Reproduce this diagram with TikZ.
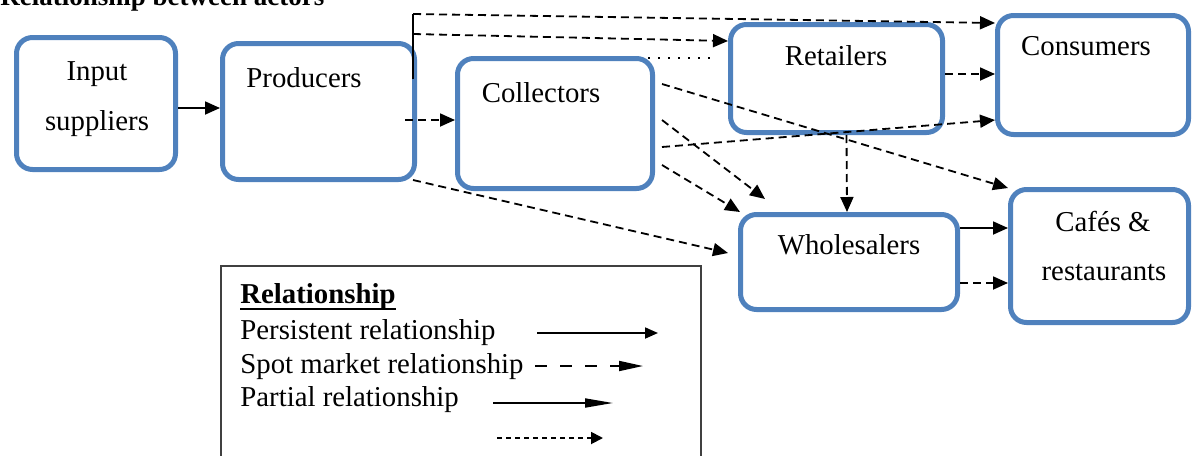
\documentclass[tikz,border=0pt]{standalone}
\usepackage{fontspec}
\setmainfont{Liberation Serif}
\usetikzlibrary{arrows.meta}
\definecolor{actorblue}{RGB}{79,129,189}
\definecolor{framegray}{RGB}{64,64,64}

\begin{document}
\begin{tikzpicture}[x=0.5pt, y=-0.5pt,
    actor/.style={draw=actorblue, line width=2.5pt, rounded corners=8pt, inner sep=0pt},
    lbl/.style={font=\fontsize{14.4}{17}\selectfont, inner sep=0pt, anchor=base},
    conn/.style={line width=0.9pt, -{Triangle[length=7.5pt,width=6.5pt]}},
    spot/.style={conn, dash pattern=on 4pt off 2.5pt}]
  \useasboundingbox (0,0) rectangle (1192,455);

  % Title
  \node[lbl, anchor=base west, font=\fontsize{13.5}{16}\selectfont\bfseries] (title) at (0,5) {Relationship between actors};

  % Define nodes
  \node[actor, minimum width=79.5pt, minimum height=66pt] (inp) at (96,103.5) {};
  \node[actor, minimum width=96pt, minimum height=68pt] (prod) at (318.5,111.5) {};
  \node[actor, minimum width=97.5pt, minimum height=65pt] (coll) at (555,123.5) {};
  \node[actor, minimum width=106pt, minimum height=54pt] (ret) at (836.5,78.5) {};
  \node[actor, minimum width=95.5pt, minimum height=59.5pt] (cons) at (1093,75) {};
  \node[actor, minimum width=108.5pt, minimum height=47.5pt] (whole) at (849,262) {};
  \node[actor, minimum width=89pt, minimum height=66.5pt] (cafe) at (1099.5,256) {};

  \node[lbl] (inpA) at (97,80) {Input};
  \node[lbl] (inpB) at (97,130) {suppliers};
  \node[lbl] (prodT) at (304,87) {Producers};
  \node[lbl] (collT) at (541,102) {Collectors};
  \node[lbl] (retT) at (836,65) {Retailers};
  \node[lbl] (consT) at (1086,55) {Consumers};
  \node[lbl] (wholeT) at (849,254) {Wholesalers};
  \node[lbl] (cafeA) at (1103,231) {Cafés \&};
  \node[lbl] (cafeB) at (1104,280) {restaurants};

  % Connect the nodes
  \coordinate (brA) at (413,14);
  \coordinate (brB) at (413,34);
  \coordinate (dotEnd) at (710,58);
  \draw[conn] ([yshift=-2.25pt]inp.east) -- ([yshift=1.75pt]prod.west);
  \draw[line width=0.9pt] ([xshift=-2pt,yshift=16.25pt]prod.east) -- (brA);
  \draw[spot] (brA) -- ([yshift=26pt]cons.west);
  \draw[spot] (brB) -- ([yshift=18.75pt]ret.west);
  \draw[line width=0.9pt, dash pattern=on 1.2pt off 3.8pt] ([xshift=-3.5pt,yshift=-1pt]coll.north east) -- (dotEnd);
  \draw[spot] ([xshift=-6pt,yshift=-4.25pt]prod.east) -- ([yshift=1.75pt]coll.west);
  \draw[spot] ([xshift=-2pt,yshift=1pt]prod.south east) -- ([xshift=-5pt,yshift=4.5pt]whole.west);
  \draw[spot] ([xshift=3.5pt,yshift=19.75pt]coll.east) -- ([yshift=-0.5pt]cafe.north west);
  \draw[spot] ([xshift=3.5pt,yshift=1.75pt]coll.east) -- ([xshift=13.5pt,yshift=6.5pt]whole.north west);
  \draw[spot] ([xshift=3.5pt,yshift=-20.75pt]coll.east) -- ([xshift=1pt]whole.north west);
  \draw[spot] ([xshift=3.5pt,yshift=-11.75pt]coll.east) -- ([yshift=-22.5pt]cons.west);
  \draw[spot] ([yshift=2.25pt]ret.east) -- ([yshift=0.5pt]cons.west);
  \draw[spot] ([xshift=5pt]ret.south) -- ([xshift=-1pt]whole.north);
  \draw[conn] ([yshift=17pt]whole.east) -- ([yshift=14pt]cafe.west);
  \draw[spot] ([yshift=-10.5pt]whole.east) -- ([yshift=-13.5pt]cafe.west);

  % Legend
  \node[draw=framegray, line width=0.8pt, minimum width=240.25pt, minimum height=107pt, inner sep=0pt] (legend) at (461,373) {};
  \node[lbl, anchor=base west, font=\fontsize{14.4}{17}\selectfont\bfseries] (legHead) at (240,303) {Relationship};
  \draw[line width=0.7pt] ([yshift=-3pt]legHead.base west) -- ([yshift=-3pt]legHead.base east);
  \node[lbl, anchor=base west] (legPers) at (240,339) {Persistent relationship};
  \node[lbl, anchor=base west] (legSpot) at (240,373) {Spot market relationship};
  \node[lbl, anchor=base west] (legPart) at (240,406) {Partial relationship};
  \coordinate (persA) at (537,333);
  \coordinate (persB) at (658,333);
  \coordinate (spotA) at (535,366);
  \coordinate (spotB) at (643,366);
  \coordinate (partA) at (493,403);
  \coordinate (partB) at (613,403);
  \coordinate (shortA) at (497,438);
  \coordinate (shortB) at (603,438);
  \draw[conn, -{Triangle[length=6.5pt,width=5.5pt]}] (persA) -- (persB);
  \draw[conn, dash pattern=on 6pt off 6.5pt, -{Triangle[length=12pt,width=5pt]}] (spotA) -- (spotB);
  \draw[conn, -{Triangle[length=14pt,width=4.5pt]}] (partA) -- (partB);
  \draw[conn, dash pattern=on 2.5pt off 2pt, -{Triangle[length=6pt,width=6pt]}] (shortA) -- (shortB);
\end{tikzpicture}
\end{document}
